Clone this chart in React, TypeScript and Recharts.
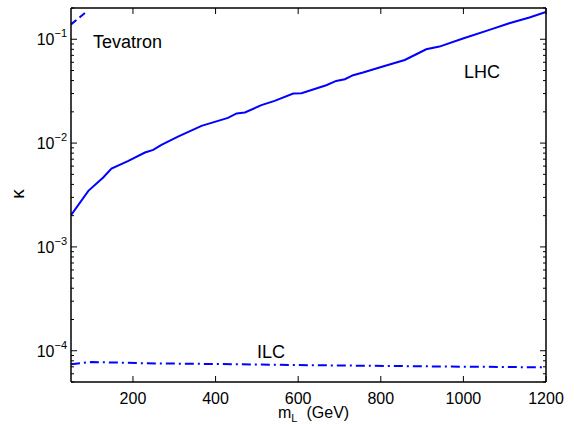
import { LineChart, Line, XAxis, YAxis } from "recharts";

// values (m_L in GeV, kappa)
const lhcMass = [50, 92, 128, 148, 189, 229, 249, 269, 309, 366, 430, 451, 471, 511, 543, 588, 608, 668, 692, 713, 733, 757, 805, 858, 886, 910, 942, 999, 1063, 1111, 1160, 1200];
const lhcKappa = [2.02e-3, 3.47e-3, 4.67e-3, 5.69e-3, 6.75e-3, 8.11e-3, 8.6e-3, 9.62e-3, 1.156e-2, 1.466e-2, 1.75e-2, 1.93e-2, 1.97e-2, 2.32e-2, 2.55e-2, 3.0e-2, 3.02e-2, 3.61e-2, 3.97e-2, 4.12e-2, 4.51e-2, 4.78e-2, 5.46e-2, 6.32e-2, 7.17e-2, 8.01e-2, 8.5e-2, 0.1016, 0.123, 0.1426, 0.162, 0.183];

const ilcMass = [50, 100, 229, 398, 599, 901, 1200];
const ilcKappa = [7.4e-5, 7.8e-5, 7.57e-5, 7.45e-5, 7.28e-5, 7.08e-5, 6.92e-5];

const tevMass = [50, 85];
const tevKappa = [0.139, 0.181];

const xTicks = [200, 400, 600, 800, 1000, 1200];
const yMajor = [1e-4, 1e-3, 1e-2, 1e-1];
const yDomain: [number, number] = [5e-5, 0.2];

const FONT = "'Liberation Sans', Arial, Helvetica, sans-serif";
const BLUE = "#0000ff";

const zip = (ms: number[], ks: number[]) => ms.map((m, i) => ({ m, k: ks[i] }));
const lhcData = zip(lhcMass, lhcKappa);
const ilcData = zip(ilcMass, ilcKappa);
const tevData = zip(tevMass, tevKappa);

// major + minor ticks for the log axis
const yTicks: number[] = [];
for (let e = -5; e <= -1; e++) {
  for (let d = 1; d <= 9; d++) {
    const v = d * Math.pow(10, e);
    if (v >= yDomain[0] * 0.999 && v <= yDomain[1] * 1.001) yTicks.push(v);
  }
}

const isMajor = (v: number) => yMajor.some((m) => Math.abs(m - v) / m < 1e-6);

function LeftTick(props: any) {
  const { x, y, payload } = props;
  const v = payload.value;
  const major = isMajor(v);
  const exp = Math.round(Math.log10(v));
  return (
    <g>
      <line x1={x} x2={x + (major ? 6 : 3)} y1={y} y2={y} stroke="#000" />
      {major && (
        <text x={x - 4} y={y + 6} textAnchor="end" fontSize={16} fontFamily={FONT} fill="#000">
          10
          <tspan dy={-8} fontSize={11}>{`\u2212${-exp}`}</tspan>
        </text>
      )}
    </g>
  );
}

function RightTick(props: any) {
  const { x, y, payload } = props;
  const major = isMajor(payload.value);
  return <line x1={x} x2={x - (major ? 6 : 3)} y1={y} y2={y} stroke="#000" />;
}

function BottomTick(props: any) {
  const { x, y, payload } = props;
  return (
    <g>
      <line x1={x} x2={x} y1={y} y2={y - 6} stroke="#000" />
      <text x={x} y={y + 22} textAnchor="middle" fontSize={16} fontFamily={FONT} fill="#000">
        {payload.value}
      </text>
    </g>
  );
}

function TopTick(props: any) {
  const { x, y } = props;
  return <line x1={x} x2={x} y1={y} y2={y + 6} stroke="#000" />;
}

export default function App() {
  const axisLine = { stroke: "#000", strokeWidth: 1.5 };
  return (
    <div style={{ position: "absolute", left: 0, top: 0, width: 574, height: 424, background: "#fff" }}>
      <LineChart width={574} height={424} margin={{ top: 7, right: 27, bottom: 0, left: 0 }}>
        <XAxis
          xAxisId="b"
          type="number"
          dataKey="m"
          domain={[50, 1200]}
          ticks={xTicks}
          height={42}
          tickSize={0}
          tickMargin={0}
          tickLine={false}
          axisLine={axisLine}
          tick={<BottomTick />}
          allowDataOverflow
        />
        <XAxis
          xAxisId="t"
          orientation="top"
          type="number"
          dataKey="m"
          domain={[50, 1200]}
          ticks={xTicks}
          height={1}
          tickSize={0}
          tickMargin={0}
          tickLine={false}
          axisLine={axisLine}
          tick={<TopTick />}
          allowDataOverflow
        />
        <YAxis
          yAxisId="l"
          scale="log"
          domain={yDomain}
          ticks={yTicks}
          width={71}
          tickSize={0}
          tickMargin={0}
          tickLine={false}
          axisLine={axisLine}
          tick={<LeftTick />}
          allowDataOverflow
          interval={0}
        />
        <YAxis
          yAxisId="r"
          orientation="right"
          scale="log"
          domain={yDomain}
          ticks={yTicks}
          width={1}
          tickSize={0}
          tickMargin={0}
          tickLine={false}
          axisLine={axisLine}
          tick={<RightTick />}
          allowDataOverflow
          interval={0}
        />
        <Line
          xAxisId="b"
          yAxisId="l"
          data={lhcData}
          dataKey="k"
          type="linear"
          stroke={BLUE}
          strokeWidth={2}
          dot={false}
          isAnimationActive={false}
        />
        <Line
          xAxisId="b"
          yAxisId="l"
          data={ilcData}
          dataKey="k"
          type="linear"
          stroke={BLUE}
          strokeWidth={2}
          strokeDasharray="9 4 2 4"
          dot={false}
          isAnimationActive={false}
        />
        <Line
          xAxisId="b"
          yAxisId="l"
          data={tevData}
          dataKey="k"
          type="linear"
          stroke={BLUE}
          strokeWidth={2}
          strokeDasharray="7 4"
          dot={false}
          isAnimationActive={false}
        />
      </LineChart>
      <svg
        width={574}
        height={424}
        style={{ position: "absolute", left: 0, top: 0, pointerEvents: "none" }}
        fontFamily={FONT}
      >
        <text x={93} y={48} fontSize={18} fill="#000">Tevatron</text>
        <text x={464} y={78} fontSize={18} fill="#000">LHC</text>
        <text x={257} y={358} fontSize={18} fill="#000">ILC</text>
        <text x={24} y={194} fontSize={19} fill="#000" textAnchor="middle" transform="rotate(-90, 24, 194)">
          κ
        </text>
        <text x={278} y={418} fontSize={16} fill="#000">
          m
          <tspan dy={4} fontSize={11}>L</tspan>
          <tspan dx={9} dy={-4}>(GeV)</tspan>
        </text>
      </svg>
    </div>
  );
}
